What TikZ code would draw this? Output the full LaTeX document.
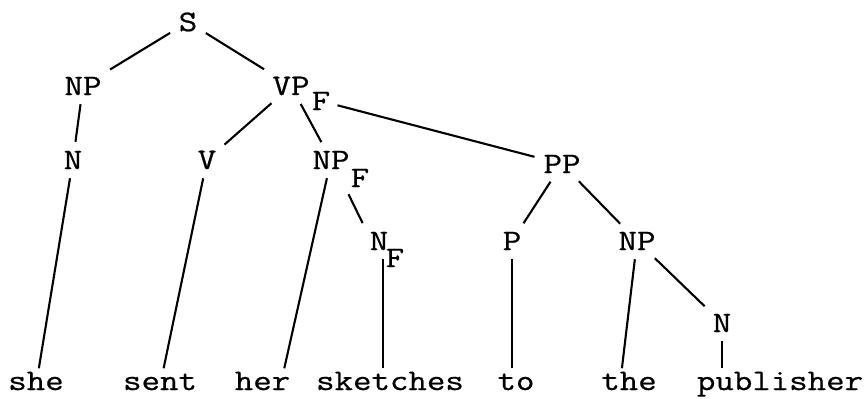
\documentclass[tikz,border=0pt]{standalone}
\usepackage{fontspec}
\setmonofont{Latin Modern Mono}[FakeBold=0.7, FakeStretch=1.2]
\usepackage{tikz}
\usetikzlibrary{positioning}
\tikzset{
  cat/.style={ inner sep=3pt, font=\ttfamily\fontsize{17}{20}\selectfont }
}
\tikzset{
  sub/.style={ inner sep=2pt, font=\ttfamily\fontsize{17}{20}\selectfont }
}
\tikzset{
  word/.style={ inner sep=3pt, anchor=base, text height=0.72em, text depth=0.22em, font=\ttfamily\fontsize{17}{20}\selectfont }
}
\tikzset{
  branch/.style={ line width=1.2pt, shorten <=2pt, shorten >=2pt }
}
\begin{document}
\begin{tikzpicture}[y=1cm, x=1cm]
      \useasboundingbox (0, 0) rectangle (17.36, -7.96);
      % categories
      \node[cat] (S) at (3.76, -0.44) {S};
      \node[cat] (NPa) at (1.66, -1.72) {NP};
      \node[cat] (VP) at (5.82, -1.72) {VP};
      \node[sub] (VPf) at (6.42, -2.02) {F};
      \node[cat] (Na) at (1.46, -3.2) {N};
      \node[cat] (V) at (4.14, -3.2) {V};
      \node[cat] (NPb) at (6.62, -3.2) {NP};
      \node[sub] (NPbf) at (7.2, -3.56) {F};
      \node[cat] (PP) at (11.24, -3.28) {PP};
      \node[cat] (Nf) at (7.58, -4.82) {N};
      \node[sub] (Nff) at (7.9, -5.16) {F};
      \node[cat] (P) at (10.24, -4.82) {P};
      \node[cat] (NPc) at (12.74, -4.82) {NP};
      \node[cat] (Nc) at (14.44, -6.46) {N};
      % words
      \node[word] (she) at (0.72, -7.8) {she};
      \node[word] (sent) at (3.2, -7.8) {sent};
      \node[word] (her) at (5.25, -7.8) {her};
      \node[word] (sketches) at (7.8, -7.8) {sketches};
      \node[word] (to) at (10.32, -7.8) {to};
      \node[word] (the) at (12.58, -7.8) {the};
      \node[word] (publisher) at (15.6, -7.8) {publisher};
      % branches
      \draw[branch] (S) -- (NPa);
      \draw[branch] (S) -- (VP);
      \draw[branch] (NPa) -- (Na);
      \draw[branch] (Na) -- (she);
      \draw[branch] (VP) -- (V);
      \draw[branch] (VP) -- (NPb);
      \draw[branch] (VPf) -- (PP);
      \draw[branch] (V) -- (sent);
      \draw[branch] (NPb) -- ([xshift=0.42cm]her.north);
      \draw[branch] (NPbf.south west) -- (Nf.north west);
      \draw[branch] ([xshift=0.08cm]Nf.south) -- ([xshift=0.08cm]Nf.south |- sketches.north);
      \draw[branch] (PP) -- (P);
      \draw[branch] (PP) -- (NPc);
      \draw[branch] (P) -- (P |- to.north);
      \draw[branch] (NPc) -- ([xshift=-0.15cm]the.north);
      \draw[branch] (NPc) -- (Nc);
      \draw[branch] (Nc) -- (Nc |- publisher.north);
    \end{tikzpicture}
\end{document}
